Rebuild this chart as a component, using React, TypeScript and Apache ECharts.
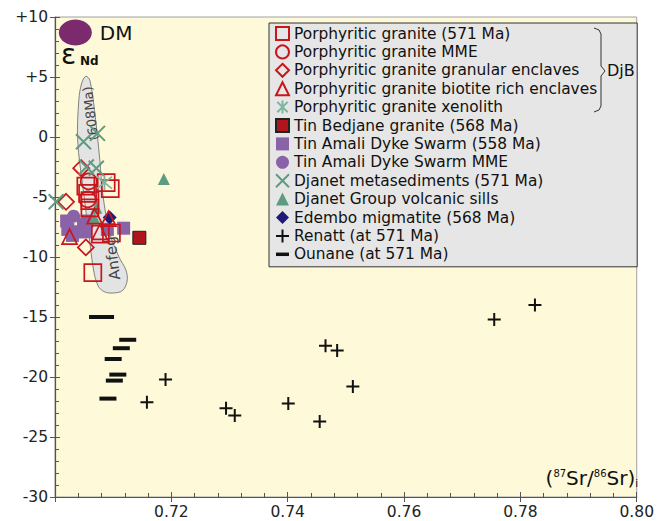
import React, { useEffect, useRef } from 'react';
import * as echarts from 'echarts';

// ---- data (x = (87Sr/86Sr)i, y = εNd) ----
const porphyriticGranite = [[0.7053, -4.1], [0.7088, -3.8], [0.7095, -4.3], [0.7056, -4.7], [0.706, -5.3], [0.706, -5.9], [0.7078, -8.1], [0.7097, -8.0], [0.7065, -11.3]];
const porphyriticMME = [[0.7058, -3.7], [0.7056, -5.2]];
const granularEnclaves = [[0.7045, -2.6], [0.7019, -5.4], [0.7053, -9.2]];
const biotiteEnclaves = [[0.7092, -6.8], [0.7025, -8.3], [0.7077, -7.9], [0.7068, -6.6]];
const xenolith = [[0.7085, -3.8]];
const tinBedjane = [[0.7145, -8.4]];
const tinAmali = [[0.702, -7.0], [0.7022, -7.7], [0.704, -7.9], [0.7049, -7.3], [0.7052, -7.9], [0.7055, -7.0], [0.709, -7.7], [0.7118, -7.6], [0.703, -8.2]];
const tinAmaliMME = [[0.7032, -6.6]];
const djanetMetasediments = [[0.7049, -0.4], [0.7073, 0.3], [0.7054, -2.5], [0.7071, -2.6], [0.7002, -5.4]];
const djanetSills = [[0.7187, -3.5], [0.7071, -5.9], [0.7068, -6.8]];
const edembo = [[0.7094, -6.7]];
const renatt = [[0.7158, -22.1], [0.719, -20.2], [0.7294, -22.6], [0.7309, -23.2], [0.7401, -22.2], [0.7455, -23.7], [0.7465, -17.4], [0.7485, -17.8], [0.7512, -20.8], [0.7755, -15.2], [0.7825, -14.0]];
const ounane = [[0.708, -15.0], [0.7125, -16.9], [0.7114, -17.6], [0.71, -18.5], [0.7108, -19.8], [0.7102, -20.3], [0.7091, -21.8]];
const depletedMantle = [[0.7035, 8.7]];
const anfegEnvelope = [[0.7053, 5.06], [0.706, 4.7], [0.7068, 2.2], [0.7077, -1.9], [0.7082, -4.7], [0.7094, -8.0], [0.711, -10.0], [0.7122, -11.1], [0.7124, -12.0], [0.7116, -12.8], [0.71, -13.0], [0.7085, -12.9], [0.7074, -12.4], [0.7066, -11.0], [0.7058, -8.0], [0.7048, -4.2], [0.7039, -0.3], [0.7041, 3.1], [0.7046, 4.5]];
const anfegLabels = [{ text: '(608Ma)', pos: [0.7061, 1.97], size: 13 }, { text: 'Anfeg', pos: [0.7099, -10.1], size: 15 }];
const xTicks = [0.7, 0.72, 0.74, 0.76, 0.78, 0.8];
const legendNames = [
  'Porphyritic granite (571 Ma)',
  'Porphyritic granite MME',
  'Porphyritic granite granular enclaves',
  'Porphyritic granite biotite rich enclaves',
  'Porphyritic granite xenolith',
  'Tin Bedjane granite (568 Ma)',
  'Tin Amali Dyke Swarm (558 Ma)',
  'Tin Amali Dyke Swarm MME',
  'Djanet metasediments (571 Ma)',
  'Djanet Group volcanic sills',
  'Edembo migmatite (568 Ma)',
  'Renatt (at 571 Ma)',
  'Ounane (at 571 Ma)',
];

const FONT = '"DejaVu Sans", "Liberation Sans", Arial, sans-serif';
const RED = '#C8161D';
const GREEN = '#5E9C82';
const PURPLE = '#8A62A8';

const X_PATH = 'path://M0,0L10,10M10,0L0,10';
const ASTER_PATH = 'path://M1,1L9,9M9,1L1,9M5,0L5,10';
const PLUS_PATH = 'path://M5,0L5,10M0,5L10,5';

export default function App() {
  const ref = useRef<HTMLDivElement>(null);
  useEffect(() => {
    if (!ref.current) return;
    const chart = echarts.init(ref.current, undefined, { renderer: 'svg' });
    const hollow = (name: string, data: number[][], symbol: string, size: number) => ({
      type: 'scatter', name, data, symbol, symbolSize: size,
      itemStyle: { color: 'transparent', borderColor: RED, borderWidth: 1.7, opacity: 1 },
      z: 5,
    });
    const option: any = {
      animation: false,
      grid: { left: 55, right: 14, top: 17, bottom: 24, show: true, backgroundColor: '#FEF9D8', borderColor: '#A0A0A0', borderWidth: 1 },
      xAxis: [
        {
          type: 'value', min: 0.7, max: 0.8, interval: 0.02,
          axisLine: { show: true, onZero: false, lineStyle: { color: '#555', width: 1.2 } },
          axisTick: { show: true, length: 5, lineStyle: { color: '#555' } },
          splitLine: { show: false },
          axisLabel: {
            fontSize: 15.5, fontFamily: FONT, color: '#222', margin: 7,
            formatter: (v: number) => (Math.abs(v - xTicks[0]) < 1e-6 ? '' : v.toFixed(2)),
          },
        },
        {
          type: 'value', min: 0.7, max: 0.8, interval: 0.02, position: 'bottom',
          axisLine: { show: false, onZero: false },
          axisTick: { show: true, inside: true, length: 5, lineStyle: { color: '#555' } },
          minorTick: { show: true, splitNumber: 5, length: 4, lineStyle: { color: '#555' } },
          axisLabel: { show: false },
          splitLine: { show: false },
        },
      ],
      yAxis: [
        {
          type: 'value', min: -30, max: 10, interval: 5,
          axisLine: { show: true, onZero: false, lineStyle: { color: '#555', width: 1.2 } },
          axisTick: { show: true, length: 5, lineStyle: { color: '#555' } },
          splitLine: { show: false },
          axisLabel: {
            fontSize: 15.5, fontFamily: FONT, color: '#222', margin: 7,
            formatter: (v: number) => (v > 0 ? '+' + v : String(v)),
          },
        },
        {
          type: 'value', min: -30, max: 10, interval: 5, position: 'left',
          axisLine: { show: false, onZero: false },
          axisTick: { show: true, inside: true, length: 5, lineStyle: { color: '#555' } },
          minorTick: { show: true, splitNumber: 5, length: 4, lineStyle: { color: '#555' } },
          axisLabel: { show: false },
          splitLine: { show: false },
        },
      ],
      legend: {
        orient: 'vertical', left: 269, top: 23,
        backgroundColor: '#E6E6E6', borderColor: '#333', borderWidth: 1,
        padding: [3, 40, 5, 6],
        itemWidth: 13, itemHeight: 13, itemGap: 3.4,
        selectedMode: false,
        textStyle: { fontSize: 15.4, fontFamily: FONT, color: '#111' },
        data: legendNames.map((n) =>
          n === 'Ounane (at 571 Ma)' ? { name: n, icon: 'path://M0,0H12V3.2H0Z' } : { name: n }
        ),
        z: 20,
      },
      graphic: [
        {
          type: 'polyline', z: 100,
          shape: { points: [[594, 28], [599, 30], [601, 34], [601, 66], [605, 71], [601, 76], [601, 106], [599, 110], [594, 112]] },
          style: { stroke: '#333', lineWidth: 1, fill: 'none' },
        },
        { type: 'text', z: 100, left: 607, top: 62, style: { text: 'DjB', fontSize: 16, fontFamily: FONT, fill: '#111' } },
        { type: 'text', z: 100, left: 61, top: 40, style: { text: 'ε', fontSize: 28, fontFamily: FONT, fill: '#111' } },
        { type: 'text', z: 100, left: 80, top: 55, style: { text: 'Nd', fontSize: 12, fontWeight: 'bold', fontFamily: FONT, fill: '#111' } },
        {
          type: 'text', z: 100, right: 19, top: 468,
          style: {
            text: '({s|87}Sr/{s|86}Sr){b|i}',
            fontSize: 20, fontFamily: FONT, fill: '#111',
            rich: {
              s: { fontSize: 10, fontFamily: FONT, fill: '#111', verticalAlign: 'top', padding: [0, 0, 10, 0] },
              b: { fontSize: 10, fontFamily: FONT, fill: '#111', verticalAlign: 'bottom', padding: [10, 0, 0, 0] },
            },
          },
        },
      ],
      series: [
        {
          type: 'custom', name: 'Anfeg', data: [[0.71, -5]], z: 1, silent: true,
          renderItem: (params: any, api: any) => {
            const pts = anfegEnvelope.map((p) => api.coord(p));
            const children: any[] = [
              { type: 'polygon', shape: { points: pts, smooth: 0.35 }, style: { fill: '#E3E3E3', stroke: '#666', lineWidth: 0.8 } },
            ];
            anfegLabels.forEach((l) => {
              const c = api.coord(l.pos);
              children.push({
                type: 'text', x: c[0], y: c[1], rotation: 1.69,
                style: { text: l.text, fontSize: l.size, fontFamily: FONT, fill: '#444', align: 'center', verticalAlign: 'middle' },
              });
            });
            return { type: 'group', children };
          },
        },
        {
          type: 'scatter', name: 'DM', data: depletedMantle, symbol: 'circle', symbolSize: [33, 26],
          itemStyle: { color: '#7B2A6D', opacity: 1 }, z: 2,
          label: { show: true, position: 'right', distance: 8, formatter: 'DM', fontSize: 20, fontFamily: FONT, color: '#111' },
        },
        {
          type: 'scatter', name: 'Tin Amali Dyke Swarm (558 Ma)', data: tinAmali, symbol: 'rect', symbolSize: 13,
          itemStyle: { color: PURPLE, opacity: 1 }, z: 3,
        },
        {
          type: 'scatter', name: 'Tin Amali Dyke Swarm MME', data: tinAmaliMME, symbol: 'circle', symbolSize: 13,
          itemStyle: { color: PURPLE, opacity: 1 }, z: 3,
        },
        {
          type: 'scatter', name: 'Djanet Group volcanic sills', data: djanetSills, symbol: 'triangle', symbolSize: 12,
          itemStyle: { color: GREEN, opacity: 1 }, z: 3,
        },
        {
          type: 'scatter', name: 'Edembo migmatite (568 Ma)', data: edembo, symbol: 'diamond', symbolSize: 14,
          itemStyle: { color: '#1F1A78', opacity: 1 }, z: 3,
        },
        {
          type: 'scatter', name: 'Tin Bedjane granite (568 Ma)', data: tinBedjane, symbol: 'rect', symbolSize: 13,
          itemStyle: { color: '#B0151C', borderColor: '#222', borderWidth: 1, opacity: 1 }, z: 3,
        },
        hollow('Porphyritic granite (571 Ma)', porphyriticGranite, 'rect', 17),
        hollow('Porphyritic granite MME', porphyriticMME, 'circle', 16),
        hollow('Porphyritic granite granular enclaves', granularEnclaves, 'diamond', 16),
        hollow('Porphyritic granite biotite rich enclaves', biotiteEnclaves, 'triangle', 15),
        {
          type: 'scatter', name: 'Porphyritic granite xenolith', data: xenolith, symbol: ASTER_PATH, symbolSize: 15,
          itemStyle: { color: 'transparent', borderColor: '#7FB59E', borderWidth: 1.8, opacity: 1 }, z: 6,
        },
        {
          type: 'scatter', name: 'Djanet metasediments (571 Ma)', data: djanetMetasediments, symbol: X_PATH, symbolSize: 15,
          itemStyle: { color: 'transparent', borderColor: GREEN, borderWidth: 2, opacity: 1 }, z: 6,
        },
        {
          type: 'scatter', name: 'Renatt (at 571 Ma)', data: renatt, symbol: PLUS_PATH, symbolSize: 13,
          itemStyle: { color: 'transparent', borderColor: '#111', borderWidth: 2, opacity: 1 }, z: 6,
        },
        {
          type: 'scatter', name: 'Ounane (at 571 Ma)',
          data: ounane.map((p, i) => ({ value: p, symbolSize: i === 0 ? [25, 4] : [17, 4] })),
          symbol: 'rect', itemStyle: { color: '#111', opacity: 1 }, z: 6,
        },
      ],
    };
    chart.setOption(option);
    return () => chart.dispose();
  }, []);
  return <div ref={ref} style={{ width: 657, height: 521, position: 'absolute', left: 0, top: 0, background: '#fff' }} />;
}
